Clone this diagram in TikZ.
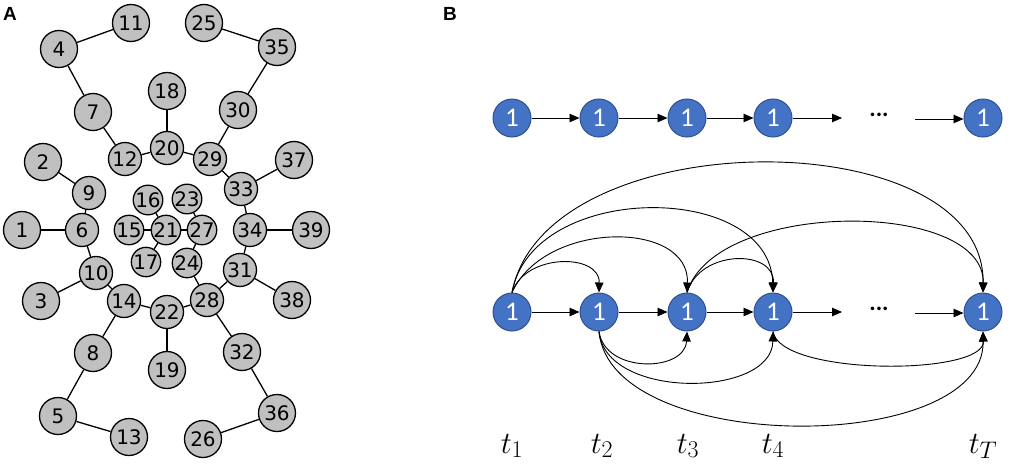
\RequirePackage{fix-cm}
\documentclass[tikz,border=0pt]{standalone}
\usepackage{fontspec}
\newfontfamily\dejavu{DejaVu Sans}
\newfontfamily\carlito{Carlito}
\newfontfamily\labfont{Liberation Sans}
\usetikzlibrary{arrows.meta}
\DeclareMathSizes{31}{31}{24}{18}
\definecolor{nodegray}{RGB}{192,192,192}
\definecolor{nodeblue}{RGB}{68,114,196}
\definecolor{nodeblueborder}{RGB}{47,82,143}
\tikzset{
  gnode/.style={circle, draw=black, line width=1.3pt, fill=nodegray, inner sep=0pt,
    font=\dejavu\fontsize{20}{20}\selectfont},
  gbig/.style={gnode, minimum size=37pt},
  gmid/.style={gnode, minimum size=33pt},
  gsml/.style={gnode, minimum size=29pt},
  gedge/.style={line width=1.3pt, black},
  bnode/.style={circle, draw=nodeblueborder, line width=1pt, fill=nodeblue, inner sep=0pt,
    minimum size=38pt, text=white, font=\carlito\fontsize{27}{27}\selectfont},
  barrow/.style={line width=0.9pt, -{Triangle[length=10pt,width=8.5pt]}},
  panellabel/.style={font=\labfont\bfseries\fontsize{19}{19}\selectfont, inner sep=0pt},
  tlabel/.style={font=\fontsize{31}{36}\selectfont, inner sep=0pt},
  dotsnode/.style={font=\carlito\bfseries\fontsize{24}{24}\selectfont, inner sep=0pt}
}
\begin{document}
\begin{tikzpicture}[x=1pt,y=-1pt]
\useasboundingbox (0,0) rectangle (1013,466);
% ---------- Panel A ----------
\node[panellabel] (labA) at (10,14) {A};
\node[gbig] (n11) at (131,23) {11};
\node[gbig] (n4) at (59,49) {4};
\node[gbig] (n25) at (204,23) {25};
\node[gbig] (n35) at (277,47) {35};
\node[gbig] (n18) at (167,91) {18};
\node[gbig] (n7) at (93,112) {7};
\node[gbig] (n30) at (238,110) {30};
\node[gmid] (n20) at (167,148) {20};
\node[gmid] (n12) at (125,159) {12};
\node[gmid] (n29) at (210,159) {29};
\node[gbig] (n2) at (43,162) {2};
\node[gmid] (n9) at (89,193) {9};
\node[gbig] (n37) at (294,160) {37};
\node[gmid] (n33) at (241,189) {33};
\node[gsml] (n16) at (148,200) {16};
\node[gsml] (n23) at (187,199) {23};
\node[gbig] (n1) at (22,230) {1};
\node[gmid] (n6) at (82,230) {6};
\node[gsml] (n15) at (129,230) {15};
\node[gsml] (n21) at (166,230) {21};
\node[gsml] (n27) at (202,230) {27};
\node[gmid] (n34) at (250,230) {34};
\node[gbig] (n39) at (311,230) {39};
\node[gsml] (n17) at (146,262) {17};
\node[gsml] (n24) at (187,263) {24};
\node[gmid] (n10) at (96,273) {10};
\node[gmid] (n31) at (240,270) {31};
\node[gbig] (n3) at (41,301) {3};
\node[gmid] (n14) at (124,301) {14};
\node[gmid] (n22) at (167,312) {22};
\node[gmid] (n28) at (207,300) {28};
\node[gbig] (n38) at (292,300) {38};
\node[gbig] (n8) at (93,353) {8};
\node[gbig] (n19) at (167,370) {19};
\node[gbig] (n32) at (242,352) {32};
\node[gbig] (n5) at (58,416) {5};
\node[gbig] (n36) at (277,413) {36};
\node[gbig] (n13) at (129,437) {13};
\node[gbig] (n26) at (203,439) {26};
\foreach \a/\b in {4/11,4/7,7/12,12/20,18/20,20/29,29/30,30/35,35/25,29/33,33/37,33/34,34/39,34/31,31/38,31/28,28/24,24/27,27/23,27/21,21/15,21/16,21/17,28/22,28/32,32/36,36/26,22/19,22/14,14/10,14/8,8/5,5/13,10/3,10/6,6/1,6/9,9/2}
  \draw[gedge] (n\a) -- (n\b);
% ---------- Panel B ----------
\node[panellabel] (labB) at (450,14) {B};
% top row
\node[bnode] (a1) at (512,118) {1};
\node[bnode] (a2) at (599,118) {1};
\node[bnode] (a3) at (687,118) {1};
\node[bnode] (a4) at (773,118) {1};
\node[bnode] (aT) at (983,118) {1};
\node[dotsnode] (adots) at (879,115) {...};
\coordinate (aend) at (842,118);
\coordinate (astart) at (915,119);
\draw[barrow] (a1) -- (a2);
\draw[barrow] (a2) -- (a3);
\draw[barrow] (a3) -- (a4);
\draw[barrow] (a4.east) -- (aend);
\draw[barrow] (astart) -- (aT.west |- astart);
% bottom row
\node[bnode] (b1) at (512,312) {1};
\node[bnode] (b2) at (599,312) {1};
\node[bnode] (b3) at (687,312) {1};
\node[bnode] (b4) at (773,312) {1};
\node[bnode] (bT) at (983,312) {1};
\node[dotsnode] (bdots) at (879,309) {...};
\coordinate (bend) at (842,312);
\coordinate (bstart) at (915,313);
\draw[barrow] (b1) -- (b2);
\draw[barrow] (b2) -- (b3);
\draw[barrow] (b3) -- (b4);
\draw[barrow] (b4.east) -- (bend);
\draw[barrow] (bstart) -- (bT.west |- bstart);
% upper arcs
\draw[barrow] (b1.north) .. controls (525,253) and (600,253) .. (b2.north);
\draw[barrow] (b1.north) .. controls (545,220) and (690,220) .. (b3.north);
\draw[barrow] (b1.north) .. controls (532,181) and (770,181) .. (b4.north);
\draw[barrow] (b1.north) .. controls (545,120) and (985,120) .. (bT.north);
\draw[barrow] (b3.north) .. controls (700,249) and (775,249) .. (b4.north);
\draw[barrow] (b3.north) .. controls (715,199) and (985,199) .. (bT.north);
% lower arcs
\draw[barrow] (b2.south) .. controls (605,374) and (685,372) .. (b3.south);
\draw[barrow] (b2.south) .. controls (605,400) and (772,398) .. (b4.south);
\draw[barrow] (b2.south) .. controls (610,456) and (985,456) .. (bT.south);
\draw[barrow] (b4.south) .. controls (780,376) and (985,376) .. (bT.south);
% time labels
\node[tlabel, anchor=base] (t1) at (512,453) {$t_1$};
\node[tlabel, anchor=base] (t2) at (602,453) {$t_2$};
\node[tlabel, anchor=base] (t3) at (688,453) {$t_3$};
\node[tlabel, anchor=base] (t4) at (773,453) {$t_4$};
\node[tlabel, anchor=base] (tT) at (983,453) {$t_T$};
\end{tikzpicture}
\end{document}
